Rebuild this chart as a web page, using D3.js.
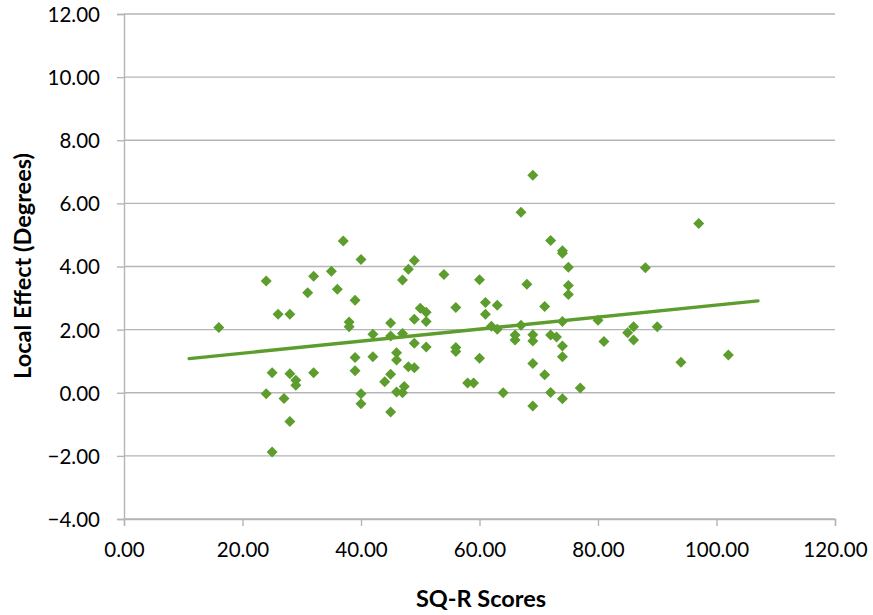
<!DOCTYPE html>
<html>
<head>
<meta charset="utf-8">
<script src="https://cdn.jsdelivr.net/npm/d3@7"></script>
<style>
  html, body { margin: 0; padding: 0; background: #fff; }
  svg { display: block; }
  text { font-family: Lato, "Open Sans", sans-serif; fill: #000; }
</style>
</head>
<body>
<svg id="chart" width="873" height="615"></svg>
<script>
// SQ-R score of each participant
const sqrScores = [
  16, 24, 24, 25, 25, 26, 27, 28, 28, 28, 29, 29, 32, 31, 32, 35, 36, 37, 38, 38,
  39, 39, 39, 40, 40, 40, 42, 42, 44, 45, 45, 45, 45, 46, 46, 46, 47, 47, 47.3, 47,
  48, 48, 49, 49, 49, 49, 50, 51, 51, 51, 54, 56, 56, 56, 58, 59, 60, 60, 61, 61,
  62, 63, 63, 64, 66, 66, 67, 67, 68, 69, 69, 69, 69, 69, 71, 71, 72, 72, 72, 73,
  74, 74, 74, 74, 74, 74, 75, 75, 75, 77, 80, 81, 85, 86, 86, 88, 90, 94, 97, 102
];
// Local effect (degrees) for the same participants
const localEffect = [
  2.07, 3.54, -0.03, 0.63, -1.88, 2.49, -0.18, 2.49, 0.60, -0.91, 0.40, 0.24, 3.69, 3.17, 0.63, 3.85, 3.28, 4.81, 2.24, 2.09,
  2.93, 1.12, 0.70, 4.22, -0.03, -0.35, 1.85, 1.14, 0.35, 0.59, 2.21, 1.80, -0.61, 1.27, 1.04, 0.02, 3.57, 1.88, 0.20, 0.00,
  3.91, 0.82, 4.19, 2.33, 1.57, 0.79, 2.68, 2.55, 2.26, 1.45, 3.75, 2.70, 1.43, 1.31, 0.31, 0.31, 3.58, 1.09, 2.86, 2.49,
  2.11, 2.77, 2.01, 0.00, 1.83, 1.67, 5.72, 2.14, 3.44, 6.89, 1.84, 1.64, 0.93, -0.42, 2.73, 0.57, 4.82, 1.83, 0.01, 1.77,
  4.50, 4.42, 2.26, 1.48, 1.14, -0.19, 3.98, 3.40, 3.11, 0.15, 2.30, 1.62, 1.90, 2.09, 1.67, 3.96, 2.09, 0.97, 5.36, 1.20
];
// Linear trend line end points
const trendX = [11, 107];
const trendY = [1.08, 2.91];
// Axis ticks
const xTicks = [0, 20, 40, 60, 80, 100, 120];
const yTicks = [-4, -2, 0, 2, 4, 6, 8, 10, 12];

const svg = d3.select("#chart");
const plot = { left: 124, right: 835, top: 14, bottom: 519 };
const green = "#5c9d2e";
const gridColor = "#b5b5b5";

const x = d3.scaleLinear().domain([0, 120]).range([plot.left, plot.right]);
const y = d3.scaleLinear().domain([-4, 12]).range([plot.bottom, plot.top]);

// Horizontal gridlines
svg.append("g")
  .selectAll("line")
  .data(yTicks)
  .join("line")
  .attr("x1", plot.left).attr("x2", plot.right)
  .attr("y1", d => y(d)).attr("y2", d => y(d))
  .attr("stroke", gridColor).attr("stroke-width", 1.4);

// Y axis
const yAxis = svg.append("g")
  .attr("transform", `translate(${plot.left},0)`)
  .call(d3.axisLeft(y).tickValues(yTicks).tickFormat(d3.format(".2f")).tickSize(7).tickPadding(17));
yAxis.select(".domain").attr("stroke", gridColor).attr("stroke-width", 1.4);
yAxis.selectAll(".tick line").attr("stroke", gridColor).attr("stroke-width", 1.4);
yAxis.selectAll(".tick text")
  .style("font-family", "Lato, 'Open Sans', sans-serif")
  .style("font-size", "20.5px").attr("fill", "#000").attr("dy", "0.36em");

// X axis
const xAxis = svg.append("g")
  .attr("transform", `translate(0,${plot.bottom})`)
  .call(d3.axisBottom(x).tickValues(xTicks).tickFormat(d3.format(".2f")).tickSize(7).tickPadding(16));
xAxis.select(".domain").attr("stroke", gridColor).attr("stroke-width", 1.4);
xAxis.selectAll(".tick line").attr("stroke", gridColor).attr("stroke-width", 1.4);
xAxis.selectAll(".tick text")
  .style("font-family", "Lato, 'Open Sans', sans-serif")
  .style("font-size", "20.5px").attr("fill", "#000");

// Data points as diamonds
const r = 5.5;
const diamond = `M0,${-r}L${r},0L0,${r}L${-r},0Z`;
svg.append("g")
  .selectAll("path")
  .data(sqrScores.map((s, i) => [s, localEffect[i]]))
  .join("path")
  .attr("d", diamond)
  .attr("transform", d => `translate(${x(d[0])},${y(d[1])})`)
  .attr("fill", green);

// Trend line
svg.append("path")
  .datum(trendX.map((v, i) => [v, trendY[i]]))
  .attr("d", d3.line().x(d => x(d[0])).y(d => y(d[1])))
  .attr("fill", "none")
  .attr("stroke", green)
  .attr("stroke-width", 3.4)
  .attr("stroke-linecap", "round");

// Axis titles
svg.append("text")
  .attr("x", 481).attr("y", 607)
  .attr("text-anchor", "middle")
  .style("font-size", "23.5px").style("font-weight", "bold")
  .text("SQ-R Scores");

svg.append("text")
  .attr("transform", "translate(31,266) rotate(-90)")
  .attr("text-anchor", "middle")
  .style("font-size", "23.5px").style("font-weight", "bold")
  .text("Local Effect (Degrees)");
</script>
</body>
</html>
